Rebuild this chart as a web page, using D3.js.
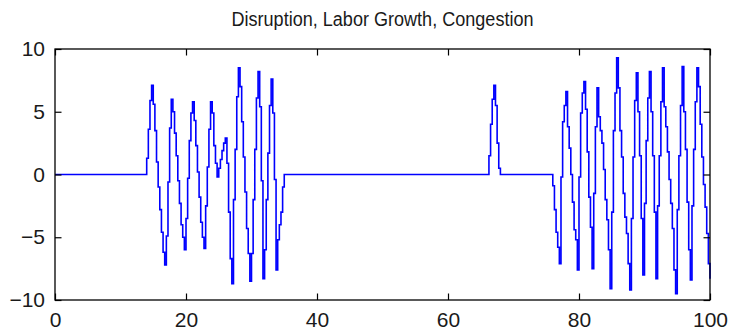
<!DOCTYPE html>
<html>
<head>
<meta charset="utf-8">
<script src="https://cdn.jsdelivr.net/npm/d3@7"></script>
<style>
  html, body { margin: 0; padding: 0; background: #ffffff; }
  svg { display: block; }
  text { font-family: "Liberation Sans", Arial, sans-serif; fill: #1a1a1a; }
</style>
</head>
<body>
<svg id="chart" width="738" height="335"></svg>
<script>
// ---------------- data ----------------
const title = "Disruption, Labor Growth, Congestion";
const xTicks = [0, 20, 40, 60, 80, 100];
const yTicks = [-10, -5, 0, 5, 10];
const sampleStep = 0.25;          // time step of the series
const xEnd = 100;

// Burst 1 : starts at t = 14.00
const burst1Start = 14.0;
const burst1 = [
  1.3, 3.6, 5.9, 7.1, 5.6, 3.5, 1.0, -1.0, -2.8, -4.6, -6.2, -7.2,
  -4.9, -0.6, 3.7, 6.0, 5.0, 3.3, 1.5, -0.5, -2.3, -4.0, -5.0, -6.0,
  -3.5, -0.3, 2.7, 4.9, 5.8, 4.3, 2.3, 0.2, -1.8, -3.8, -5.0, -5.9,
  -2.5, 0.6, 3.6, 5.8, 4.9, 2.3, 0.9, -0.2, 0.5, 1.2, 1.9, 2.5, 2.9,
  0.9, -3.0, -6.7, -8.7, -2.0, 2.0, 6.2, 8.5, 7.0, 4.2, 1.4, -1.4, -4.3,
  -6.3, -8.5, -6.3, -2.0, 2.0, 6.1, 8.2, 5.4, -0.5, -8.3, -6.0, -2.0,
  1.7, 5.5, 7.6, 4.9, -0.4, -7.6, -5.2, -4.0, -3.0, -1.0, 0
];

// Burst 2 : starts at t = 66.25
const burst2Start = 66.25;
const burst2 = [1.5, 4.0, 6.0, 7.1, 5.5, 2.5, 0.5, 0];

// Burst 3 : starts at t = 76.00
const burst3Start = 76.0;
const burst3 = [
  -0.9, -2.8, -4.6, -5.8, -7.1, -0.2, 4.2, 5.5, 6.6, 3.8, 2.1, 0.0,
  -2.2, -4.4, -5.2, -7.6, -0.2, 4.9, 6.5, 7.4, 5.2, 1.8, -1.8, -4.2,
  -7.5, -1.5, 3.8, 6.9, 4.6, 3.5, 2.5, 0.4, -2.0, -3.6, -6.0, -9.1,
  -3.0, 3.5, 6.5, 9.3, 6.9, 3.5, 1.4, -1.5, -3.4, -4.7, -7.1, -9.2,
  -3.5, 1.4, 5.9, 8.1, 5.0, 1.5, -3.5, -8.0, -2.3, 2.7, 6.1, 8.2,
  5.0, 1.5, -3.0, -8.3, -2.5, 1.5, 5.8, 8.5, 5.4, 3.8, 1.8, -0.4,
  -2.3, -4.3, -7.6, -9.5, -2.8, 1.5, 5.5, 8.6, 5.0, 2.0, -2.2, -6.0,
  -8.4, -2.5, 2.0, 5.8, 8.5, 7.0, 4.0, 1.4, -0.8, -2.6, -4.7, -7.1, -8.3
];

// ---------------- build series ----------------
const nSamples = Math.round(xEnd / sampleStep) + 1;
const series = d3.range(nSamples).map(i => ({ t: i * sampleStep, v: 0 }));
function place(start, vals) {
  const i0 = Math.round(start / sampleStep);
  vals.forEach((v, k) => { if (series[i0 + k]) series[i0 + k].v = v; });
}
place(burst1Start, burst1);
place(burst2Start, burst2);
place(burst3Start, burst3);

// ---------------- layout ----------------
const W = 738, H = 335;
const m = { left: 55, right: 28, top: 49, bottom: 35 };
const svg = d3.select("#chart");

const x = d3.scaleLinear().domain([0, 100]).range([m.left, W - m.right]);
const y = d3.scaleLinear().domain([-10, 10]).range([H - m.bottom, m.top]);
const tick = 6.5;

// line
const line = d3.line()
  .x(d => x(d.t))
  .y(d => y(d.v))
  .curve(d3.curveStepAfter);

svg.append("path")
  .datum(series)
  .attr("fill", "none")
  .attr("stroke", "#0000ff")
  .attr("stroke-width", 1.6)
  .attr("d", line);

// axes
const fontSize = 21;
const gB = svg.append("g").attr("transform", `translate(0,${H - m.bottom})`)
  .call(d3.axisBottom(x).tickValues(xTicks).tickSizeInner(-tick).tickSizeOuter(0).tickPadding(12));
const gL = svg.append("g").attr("transform", `translate(${m.left},0)`)
  .call(d3.axisLeft(y).tickValues(yTicks).tickSizeInner(-tick).tickSizeOuter(0).tickPadding(10));
const gT = svg.append("g").attr("transform", `translate(0,${m.top})`)
  .call(d3.axisTop(x).tickValues(xTicks).tickSizeInner(-tick).tickSizeOuter(0).tickFormat(""));
const gR = svg.append("g").attr("transform", `translate(${W - m.right},0)`)
  .call(d3.axisRight(y).tickValues(yTicks).tickSizeInner(-tick).tickSizeOuter(0).tickFormat(""));

[gB, gL, gT, gR].forEach(g => {
  g.select(".domain").remove();
  g.selectAll(".tick line").attr("stroke", "#000").attr("stroke-width", 1.2);
  g.selectAll(".tick text")
    .attr("font-family", "Liberation Sans, Arial, sans-serif")
    .attr("font-size", fontSize)
    .attr("fill", "#1a1a1a");
});

// box
svg.append("rect")
  .attr("x", m.left).attr("y", m.top)
  .attr("width", W - m.left - m.right)
  .attr("height", H - m.top - m.bottom)
  .attr("fill", "none")
  .attr("stroke", "#000")
  .attr("stroke-width", 1.3);

// title (slightly condensed, like the reference)
const cx = (m.left + W - m.right) / 2;
svg.append("text")
  .attr("transform", `translate(${cx},26) scale(0.86,1)`)
  .attr("text-anchor", "middle")
  .attr("font-size", 21)
  .text(title);
</script>
</body>
</html>
